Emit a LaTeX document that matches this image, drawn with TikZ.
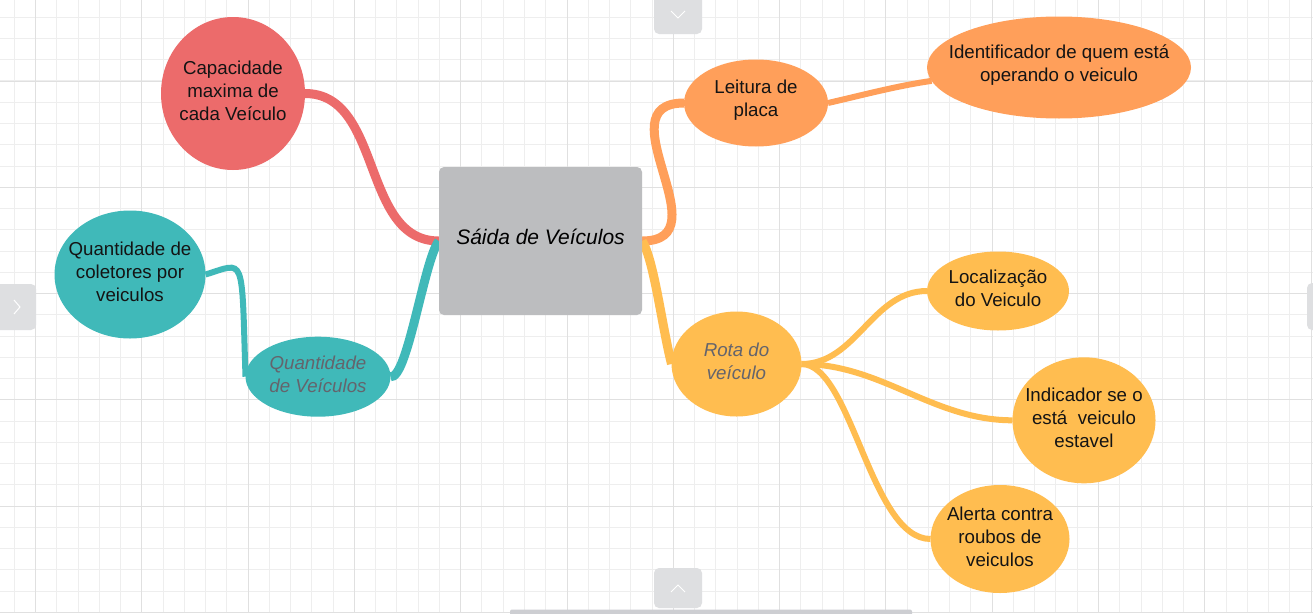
\documentclass[tikz,border=0pt]{standalone}
\usepackage{fontspec}
\setmainfont{Liberation Sans}
\usetikzlibrary{shapes.geometric,backgrounds}

\definecolor{mapred}{RGB}{236,107,107}
\definecolor{mapteal}{RGB}{64,185,185}
\definecolor{maporange}{RGB}{255,159,90}
\definecolor{mapyellow}{RGB}{255,189,80}
\definecolor{boxgray}{RGB}{188,189,191}
\definecolor{notegray}{RGB}{100,100,108}
\definecolor{gridminor}{RGB}{238,238,238}
\definecolor{gridmajor}{RGB}{224,224,224}
\definecolor{tabgray}{RGB}{222,223,225}
\definecolor{bargray}{RGB}{205,206,210}

\tikzset{
  topic/.style={ellipse, inner sep=0pt, outer sep=0pt},
  txt/.style={align=center, font=\fontsize{18.7}{23}\selectfont, text=black!92, yshift=2.5pt},
  note/.style={align=center, font=\fontsize{18.7}{23}\selectfont\itshape, text=notegray, yshift=2.5pt},
  thickbranch/.style={line width=9pt},
  thinbranch/.style={line width=6pt},
}

\begin{document}
\begin{tikzpicture}[x=1pt, y=-1pt]
	\useasboundingbox (0,0) rectangle (1313,613);
	\clip (0,0) rectangle (1313,613);
	
	% grid
	\begin{pgfonlayer}{background}
	\fill[white] (0,0) rectangle (1313,613);
	\foreach \i in {0,...,61} \draw[gridminor, line width=1pt] ({14.24+21.26*\i},0) -- ({14.24+21.26*\i},613);
	\foreach \j in {0,...,28} \draw[gridminor, line width=1pt] (0,{17.2+21.26*\j}) -- (1313,{17.2+21.26*\j});
	\foreach \i in {0,...,12} \draw[gridmajor, line width=1pt] ({35.5+106.3*\i},0) -- ({35.5+106.3*\i},613);
	\foreach \j in {0,...,5} \draw[gridmajor, line width=1pt] (0,{81+106.3*\j}) -- (1313,{81+106.3*\j});
	\end{pgfonlayer}
	
	% centre
	\node[rectangle, fill=boxgray, rounded corners=5pt, minimum width=203pt, minimum height=148pt, inner sep=0pt,
		label={[font=\fontsize{21}{25}\selectfont\itshape, yshift=4pt]center:Sáida de Veículos}] (saida) at (540.5,241) {};
	
	% left side
	\node[topic, fill=mapred, minimum width=144pt, minimum height=153pt, label={[txt]center:Capacidade\\maxima de\\cada Veículo}] (cap) at (233,93.5) {};
	\node[topic, fill=mapteal, minimum width=151pt, minimum height=128pt, label={[txt]center:Quantidade de\\coletores por\\veiculos}] (qcol) at (130,274.5) {};
	\node[topic, fill=mapteal, minimum width=145pt, minimum height=80pt, label={[note]center:Quantidade\\de Veículos}] (qveic) at (318,376.7) {};
	
	% right side
	\node[topic, fill=maporange, minimum width=144pt, minimum height=87pt, label={[txt]center:Leitura de\\placa}] (placa) at (756,103) {};
	\node[topic, fill=maporange, minimum width=264pt, minimum height=102pt, label={[txt]center:Identificador de quem está\\operando o veiculo}] (ident) at (1059,67.5) {};
	\node[topic, fill=mapyellow, minimum width=130pt, minimum height=105pt, label={[note]center:Rota do\\veículo}] (rota) at (736.5,364) {};
	\node[topic, fill=mapyellow, minimum width=142pt, minimum height=79pt, label={[txt]center:Localização\\do Veiculo}] (local) at (998,291) {};
	\node[topic, fill=mapyellow, minimum width=143pt, minimum height=126pt, label={[txt]center:Indicador se o\\está~ veiculo\\estavel}] (indic) at (1084,420.3) {};
	\node[topic, fill=mapyellow, minimum width=139pt, minimum height=108pt, label={[txt]center:Alerta contra\\roubos de\\veiculos}] (alerta) at (1000,539) {};
	
	% branches
	\begin{pgfonlayer}{background}
	\draw[mapred, thickbranch] (saida.west) .. controls +(-78,0) and +(78,0) .. (cap.east);
	\draw[mapteal, thickbranch] (saida.west) .. controls +(-15,20) and +(17,3) .. (qveic.east);
	\draw[mapteal, thinbranch] (qveic.west) .. controls +(-4,-125) and +(40,-12) .. (qcol.east);
	\draw[maporange, thickbranch] (saida.east) .. controls +(82,0) and +(-82,0) .. (placa.west);
	\draw[maporange, thinbranch] (placa.east) .. controls +(35,-8) and +(-35,5) .. (ident.186);
	\draw[mapyellow, thickbranch] (saida.east) .. controls +(12,20) and +(-10,-40) .. (rota.west);
	\draw[mapyellow, thinbranch] (rota.east) .. controls +(55,0) and +(-55,0) .. (local.west);
	\draw[mapyellow, thinbranch] (rota.east) .. controls +(80,0) and +(-80,0) .. (indic.west);
	\draw[mapyellow, thinbranch] (rota.east) .. controls +(50,0) and +(-60,0) .. (alerta.west);
	\end{pgfonlayer}
	
	% canvas tabs
	\fill[tabgray, rounded corners=5pt] (654,-10) rectangle (702,34);
	\draw[white, line width=1pt] (671,11) -- (678,18) -- (685,11);
	\fill[tabgray, rounded corners=5pt] (654,568) rectangle (702,608);
	\draw[white, line width=1pt] (671,592) -- (678,585) -- (685,592);
	\fill[tabgray, rounded corners=5pt] (-10,284) rectangle (36,330);
	\draw[white, line width=1pt] (14,300) -- (20,307) -- (14,314);
	\fill[tabgray, rounded corners=5pt] (1307,283) rectangle (1323,330);
	\fill[bargray, rounded corners=2pt] (510,609.5) rectangle (912,620);
\end{tikzpicture}
\end{document}
